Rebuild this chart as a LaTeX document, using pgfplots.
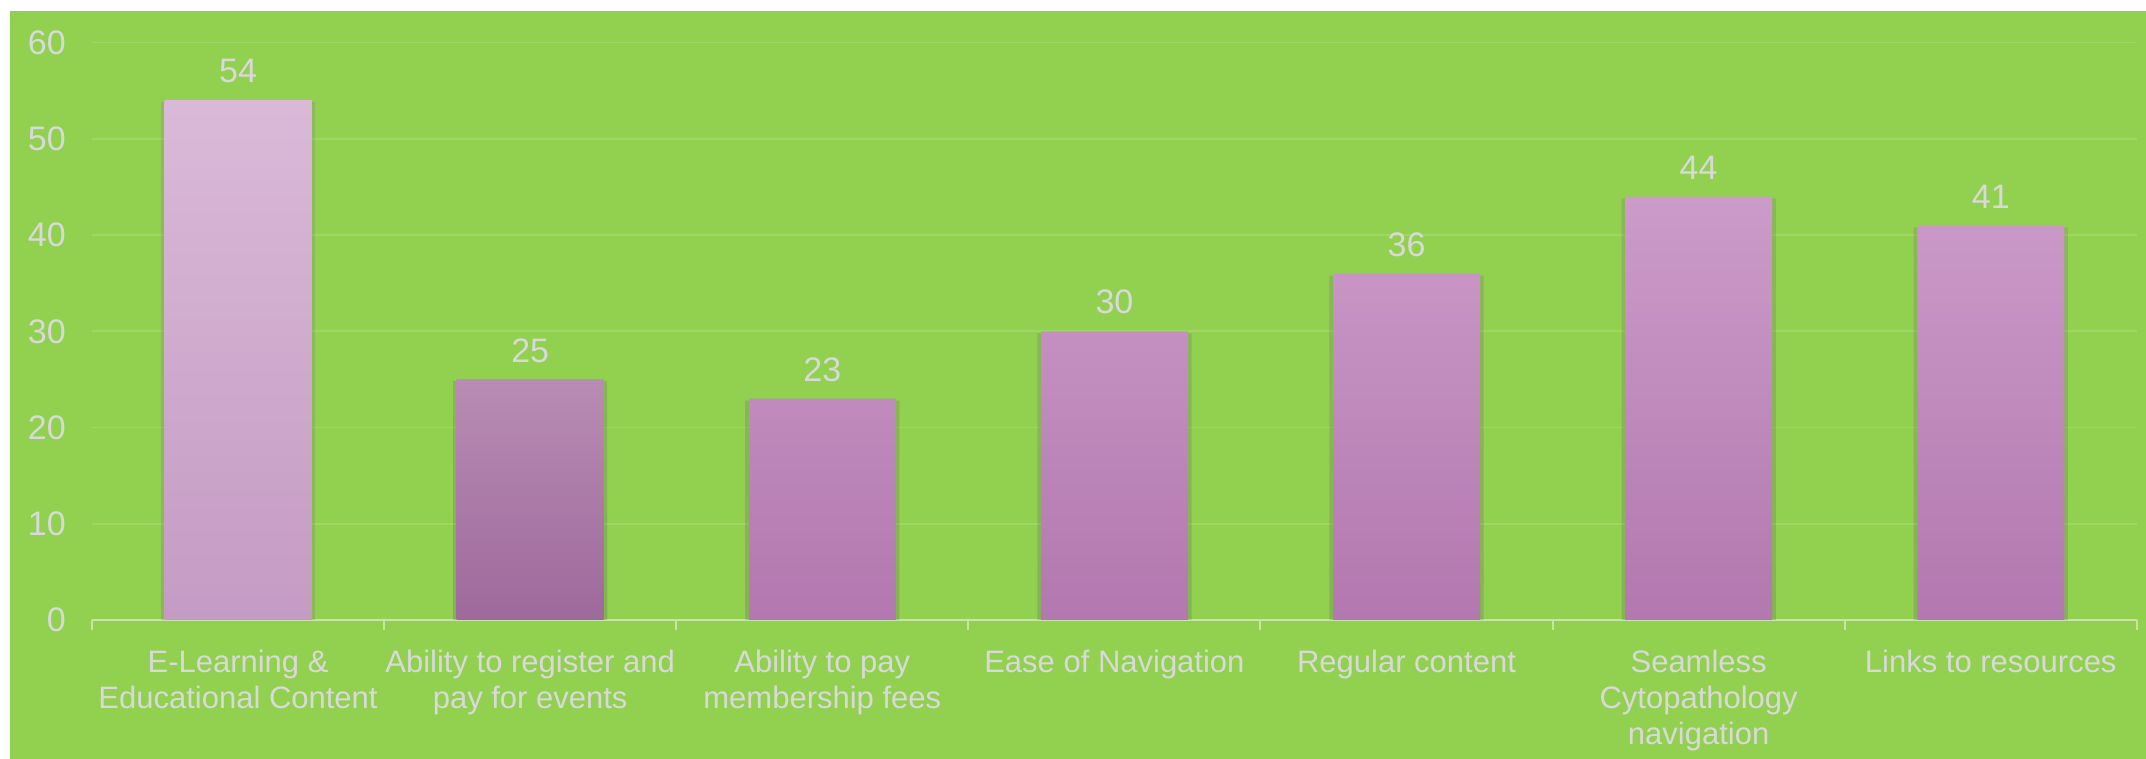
\documentclass[border=0pt]{standalone}
\usepackage{pgfplots}
\pgfplotsset{compat=1.18}
\usepackage{fontspec}
\setmainfont{Liberation Sans}
\definecolor{bg}{RGB}{146,208,80}
\definecolor{txt}{RGB}{217,217,217}
\definecolor{axl}{RGB}{200,228,170}
\definecolor{bAtop}{RGB}{218,185,216}
\definecolor{bAbot}{RGB}{196,155,196}
\definecolor{bBtop}{RGB}{184,140,180}
\definecolor{bBbot}{RGB}{158,105,155}
\definecolor{bCtop}{RGB}{204,155,201}
\definecolor{bCbot}{RGB}{178,120,175}
\begin{document}
\begin{tikzpicture}
\useasboundingbox (0,0) rectangle (1073pt,379.5pt);
\fill[white] (0,0) rectangle (1073pt,379.5pt);
\fill[bg] (5pt,0) rectangle (1073pt,374pt);
\begin{axis}[
  at={(46pt,69.5pt)}, anchor=south west,
  scale only axis, width=1022.5pt, height=288.7pt,
  xmin=-0.5, xmax=6.5, ymin=0, ymax=60,
  ytick={0,10,...,60},
  xtick={0,...,6},
  xticklabels={{E-Learning \&\\Educational Content},{Ability to register and\\pay for events},{Ability to pay\\membership fees},{Ease of Navigation},{Regular content},{Seamless\\Cytopathology\\navigation},{Links to resources}},
  minor xtick={-0.5,0.5,...,6.5},
  axis x line*=bottom, axis y line*=left,
  x axis line style={draw=axl, line width=1pt, -},
  y axis line style={draw=none},
  xtick style={draw=none}, ytick style={draw=none},
  minor x tick style={draw=axl, line width=1pt},
  minor tick length=5pt, tick align=outside,
  ymajorgrids, major grid style={draw=white, opacity=0.13, line width=0.8pt},
  /pgf/number format/assume math mode=true,
  ticklabel style={text=txt},
  xticklabel style={align=center, yshift=-7pt, font=\fontsize{15.5}{18.2}\selectfont},
  yticklabel style={xshift=-5.3pt, font=\fontsize{17}{20}\selectfont},
  nodes near coords,
  every node near coord/.append style={text=txt, font=\fontsize{17}{20}\selectfont, yshift=5pt},
  shadowbar/.style={preaction={fill=black!70!green, fill opacity=0.13, transform canvas={xshift=1.8pt, yshift=-1pt}},
                    preaction={fill=black!70!green, fill opacity=0.13, transform canvas={xshift=-1.8pt, yshift=-1pt}}},
]
\addplot[ybar, bar width=73.5pt, bar shift=0pt, draw=none, shadowbar, top color=bAtop, bottom color=bAbot] coordinates {(0,54)};
\addplot[ybar, bar width=73.5pt, bar shift=0pt, draw=none, shadowbar, top color=bBtop, bottom color=bBbot] coordinates {(1,25)};
\addplot[ybar, bar width=73.5pt, bar shift=0pt, draw=none, shadowbar, top color=bCtop, bottom color=bCbot] coordinates {(2,23) (3,30) (4,36) (5,44) (6,41)};
\end{axis}
\end{tikzpicture}
\end{document}
